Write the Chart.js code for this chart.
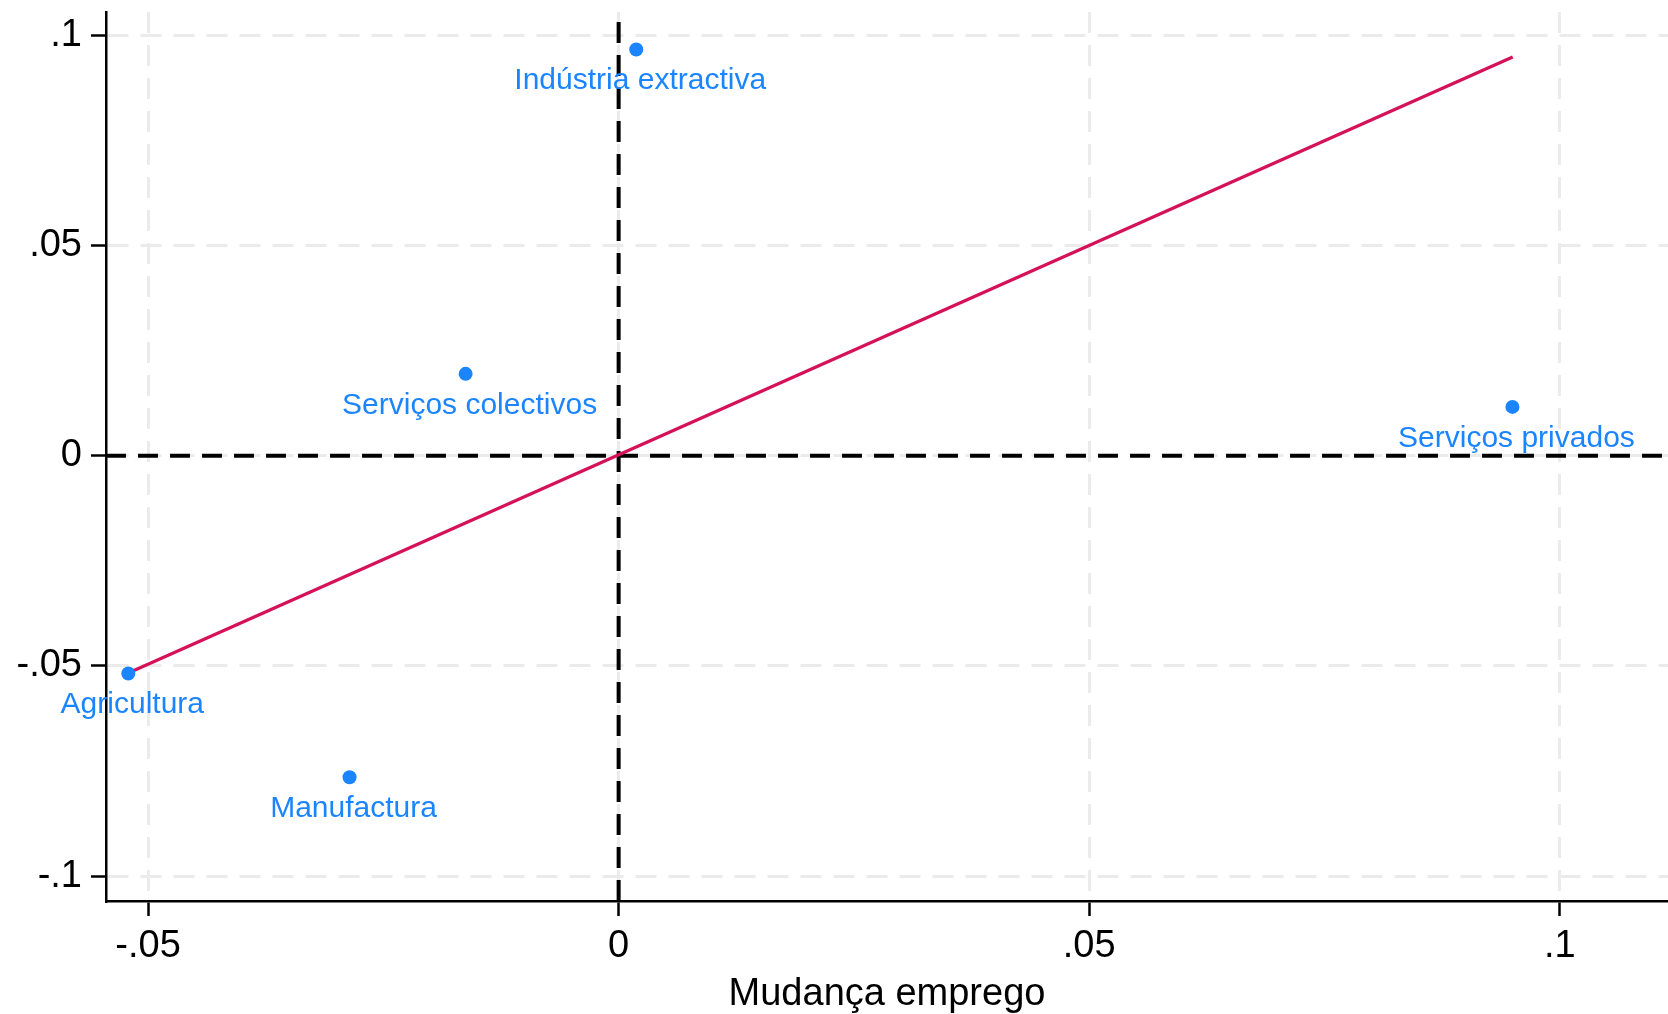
<!DOCTYPE html>
<html lang="pt">
<head>
<meta charset="utf-8">
<title>Mudança emprego</title>
<script src="https://cdn.jsdelivr.net/npm/chart.js@4.4.1/dist/chart.umd.min.js"></script>
<style>
  html, body { margin: 0; padding: 0; background: #ffffff; }
  #wrap { width: 1668px; height: 1014px; }
</style>
</head>
<body>
<div id="wrap"><canvas id="chart" width="1668" height="1014"></canvas></div>
<script>
// Sectors and their changes
const sectors = ['Indústria extractiva', 'Serviços colectivos', 'Agricultura', 'Manufactura', 'Serviços privados'];
const employmentChange = [0.00187, -0.01626, -0.0521, -0.02859, 0.09497];
const productivityChange = [0.0966, 0.01945, -0.0518, -0.07646, 0.0116];

// Fitted line end points
const fitX = [-0.0521, 0.0950];
const fitY = [-0.0517, 0.0948];

// Axis ranges and ticks
const xRange = [-0.05447, 0.1115];
const yRange = [-0.1059, 0.1055];
const xTickValues = [-0.05, 0, 0.05, 0.1];
const xTickLabels = ['-.05', '0', '.05', '.1'];
const yTickValues = [-0.1, -0.05, 0, 0.05, 0.1];
const yTickLabels = ['-.1', '-.05', '0', '.05', '.1'];
const xTitle = 'Mudança emprego';

const BLUE = 'rgb(26,133,255)';
const RED = 'rgb(212,17,89)';
const FONT = '"Liberation Sans", Arial, Helvetica, sans-serif';

const pointData = sectors.map((s, i) => ({ x: employmentChange[i], y: productivityChange[i] }));
const fitData = fitX.map((x, i) => ({ x: x, y: fitY[i] }));
const zeroH = [{ x: xRange[0], y: 0 }, { x: xRange[1], y: 0 }];
const zeroV = [{ x: 0, y: yRange[0] }, { x: 0, y: yRange[1] }];

// Sector names written below each marker
const markerLabels = {
  id: 'markerLabels',
  afterDatasetsDraw(chart) {
    const meta = chart.getDatasetMeta(0);
    const ctx = chart.ctx;
    ctx.save();
    ctx.font = '30px ' + FONT;
    ctx.fillStyle = BLUE;
    ctx.textAlign = 'center';
    ctx.textBaseline = 'alphabetic';
    meta.data.forEach((el, i) => {
      ctx.fillText(sectors[i], el.x + 4, el.y + 40);
    });
    ctx.restore();
  }
};

// Keep the plot area edges fixed: no extra room for edge tick labels
function noScalePadding(scale) {
  scale.paddingLeft = 0;
  scale.paddingRight = 0;
  scale.paddingTop = 0;
  scale.paddingBottom = 0;
}

const gridStyle = {
  color: '#ebebeb',
  lineWidth: 3,
  drawTicks: true,
  tickLength: 15,
  tickColor: '#000000',
  tickWidth: 2.5,
  tickBorderDash: []
};

new Chart(document.getElementById('chart'), {
  type: 'scatter',
  data: {
    datasets: [
      {
        label: 'sectors',
        data: pointData,
        backgroundColor: BLUE,
        borderWidth: 0,
        pointRadius: 7,
        pointHoverRadius: 7,
        order: 0
      },
      {
        type: 'line',
        label: 'fit',
        data: fitData,
        borderColor: RED,
        borderWidth: 3.2,
        pointRadius: 0,
        fill: false,
        order: 1
      },
      {
        type: 'line',
        label: 'y0',
        data: zeroH,
        borderColor: '#000000',
        borderWidth: 4,
        borderDash: [20, 12],
        pointRadius: 0,
        fill: false,
        order: 2
      },
      {
        type: 'line',
        label: 'x0',
        data: zeroV,
        borderColor: '#000000',
        borderWidth: 4,
        borderDash: [21, 12],
        pointRadius: 0,
        fill: false,
        order: 2
      }
    ]
  },
  options: {
    responsive: false,
    animation: false,
    devicePixelRatio: 1,
    layout: { autoPadding: false, padding: { top: 12, right: 0, bottom: 0, left: 0 } },
    plugins: {
      legend: { display: false },
      tooltip: { enabled: false }
    },
    scales: {
      x: {
        type: 'linear',
        position: 'bottom',
        min: xRange[0],
        max: xRange[1],
        afterBuildTicks(scale) { scale.ticks = xTickValues.map(v => ({ value: v })); },
        afterFit(scale) { scale.height = 113; noScalePadding(scale); },
        ticks: {
          autoSkip: false,
          maxRotation: 0,
          padding: 8,
          color: '#000000',
          font: { family: FONT, size: 38 },
          callback: (v, i) => xTickLabels[i]
        },
        grid: gridStyle,
        border: { display: true, color: '#000000', width: 2.5, dash: [21, 12] },
        title: {
          display: true,
          text: xTitle,
          color: '#000000',
          font: { family: FONT, size: 38, lineHeight: 1 },
          padding: { top: 0, bottom: 0 }
        }
      },
      y: {
        type: 'linear',
        position: 'left',
        min: yRange[0],
        max: yRange[1],
        afterBuildTicks(scale) { scale.ticks = yTickValues.map(v => ({ value: v })); },
        afterFit(scale) { scale.width = 106; noScalePadding(scale); },
        ticks: {
          autoSkip: false,
          padding: 9,
          color: '#000000',
          font: { family: FONT, size: 38 },
          callback: (v, i) => yTickLabels[i]
        },
        grid: gridStyle,
        border: { display: true, color: '#000000', width: 2.5, dash: [21, 12] }
      }
    }
  },
  plugins: [markerLabels]
});
</script>
</body>
</html>
